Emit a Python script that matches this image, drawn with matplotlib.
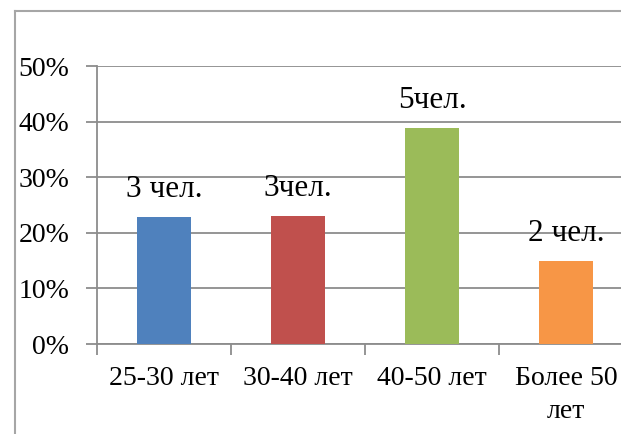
import matplotlib
matplotlib.use('Agg')
import matplotlib.pyplot as plt
from matplotlib.lines import Line2D
import numpy as np

categories = ['25-30 лет', '30-40 лет', '40-50 лет', 'Более 50\nлет']
shares = [0.228, 0.230, 0.388, 0.149]
bar_labels = ['3 чел.', '3чел.', '5чел.', '2 чел.']
bar_colors = ['#4F81BD', '#C0504D', '#9BBB59', '#F79646']
y_ticks = [0.0, 0.1, 0.2, 0.3, 0.4, 0.5]

FONT = 'Liberation Serif'
FS = 20
plt.rcParams['font.family'] = 'serif'
plt.rcParams['font.serif'] = [FONT, 'DejaVu Serif']

W, H = 621, 434
fig = plt.figure(figsize=(W / 100, H / 100), dpi=100)
ax = fig.add_axes([97 / W, (H - 344) / H, (633 - 97) / W, (344 - 66) / H])

x = np.arange(len(categories))
ax.bar(x, shares, width=0.40, color=bar_colors, zorder=3)

for xi, v, lab in zip(x, shares, bar_labels):
    ax.annotate(lab, (xi, v), xytext=(0, 14.5), textcoords='offset points',
                ha='center', va='baseline', fontsize=22.5, family=FONT, color='black')

grid_c = '#8c8c8c'
ax.set_xlim(-0.5, len(categories) - 0.5)
ax.set_ylim(0, 0.5)
ax.set_yticks(y_ticks)
ax.set_yticklabels([f'{int(round(t * 100))}%' for t in y_ticks], family=FONT, fontsize=FS)
ax.yaxis.grid(True, color=grid_c, linewidth=1.3, zorder=0)
ax.set_axisbelow(True)

ax.set_xticks(x)
ax.set_xticklabels(categories, family=FONT, fontsize=FS, linespacing=1.4)
ax.set_xticks(np.arange(len(categories)) - 0.5, minor=True)
ax.tick_params(axis='x', which='major', length=0, pad=16)
ax.tick_params(axis='x', which='minor', length=8, width=1.3, color=grid_c)
ax.tick_params(axis='y', length=8, width=1.3, color=grid_c, pad=12)

for side in ['top', 'right']:
    ax.spines[side].set_visible(False)
for side in ['left', 'bottom']:
    ax.spines[side].set_color(grid_c)
    ax.spines[side].set_linewidth(1.3)

# outer chart frame (partly cropped in the source picture)
frame_c = '#a6a6a6'
fig.add_artist(Line2D([14.5 / W, 14.5 / W], [0, 1 - 10.5 / H], transform=fig.transFigure,
                      color=frame_c, linewidth=1.5))
fig.add_artist(Line2D([14.5 / W, 1], [1 - 10.5 / H, 1 - 10.5 / H], transform=fig.transFigure,
                      color=frame_c, linewidth=1.5))

fig.savefig('out.png', dpi=100)
